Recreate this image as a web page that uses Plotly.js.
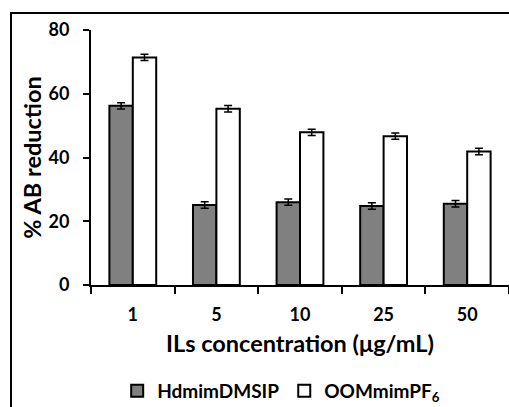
<!DOCTYPE html>
<html><head><meta charset="utf-8">
<script src="https://cdn.plot.ly/plotly-3.0.1.min.js"></script>
<style>
body{margin:0;background:#fff;overflow:hidden;}
#frame{position:absolute;left:10px;top:12px;width:520px;height:420px;border:2px solid #000;box-sizing:border-box;}
#chart{position:absolute;left:0;top:0;width:509px;height:407px;}
</style></head><body>
<div id="frame"></div>
<div id="chart"></div>
<script>
const categories = ['1','5','10','25','50'];
const hdmim = [56.2, 25.1, 26.0, 24.8, 25.5];
const hdmimErr = [1.0, 1.0, 1.0, 1.0, 1.0];
const oomim = [71.4, 55.3, 47.9, 46.7, 41.9];
const oomimErr = [1.0, 1.0, 1.0, 1.0, 1.0];
const seriesNames = ['HdmimDMSIP', 'OOMmimPF<sub>6</sub>'];
const yTicks = [0, 20, 40, 60, 80];

const F = 'Lato, "Open Sans", sans-serif';
const traces = [
 {type:'bar', name:seriesNames[0], x:categories, y:hdmim,
  marker:{color:'#808080', line:{color:'#000', width:2}},
  error_y:{type:'data', array:hdmimErr, visible:true, color:'#000', thickness:1.5, width:4}},
 {type:'bar', name:seriesNames[1], x:categories, y:oomim,
  marker:{color:'#ffffff', line:{color:'#000', width:2}},
  error_y:{type:'data', array:oomimErr, visible:true, color:'#000', thickness:1.5, width:4}}
];
const layout = {
 width:509, height:407,
 margin:{l:91, r:0, t:30, b:122, autoexpand:false},
 paper_bgcolor:'rgba(0,0,0,0)', plot_bgcolor:'rgba(0,0,0,0)',
 font:{family:F, color:'#000'},
 barmode:'group', bargap:0.44, bargroupgap:0,
 showlegend:true,
 legend:{orientation:'h', x:0.455, xanchor:'center', y:-0.415, yanchor:'middle',
   font:{family:F, size:19, weight:'bold'}, itemwidth:30, traceorder:'normal'},
 xaxis:{type:'category', tickson:'boundaries', ticks:'outside', ticklen:7, tickwidth:2, automargin:false,
   tickcolor:'#000', showline:true, linecolor:'#000', linewidth:2, showgrid:false,
   tickfont:{family:F, size:18, weight:'bold'}, ticklabelstandoff:12,
   title:{text:'ILs concentration (μg/mL)', font:{family:F, size:23.5, weight:'bold'}, standoff:12}},
 yaxis:{range:[0,80], tickvals:yTicks, ticks:'outside', ticklen:6, tickwidth:2, automargin:false,
   tickcolor:'#000', showline:true, linecolor:'#000', linewidth:2, showgrid:false, zeroline:false,
   tickfont:{family:F, size:18, weight:'bold'}, ticklabelstandoff:10,
   title:{text:'% AB reduction', font:{family:F, size:23.5, weight:'bold'}, standoff:0}}
};
Plotly.newPlot('chart', traces, layout, {displayModeBar:false, staticPlot:true});
</script></body></html>
